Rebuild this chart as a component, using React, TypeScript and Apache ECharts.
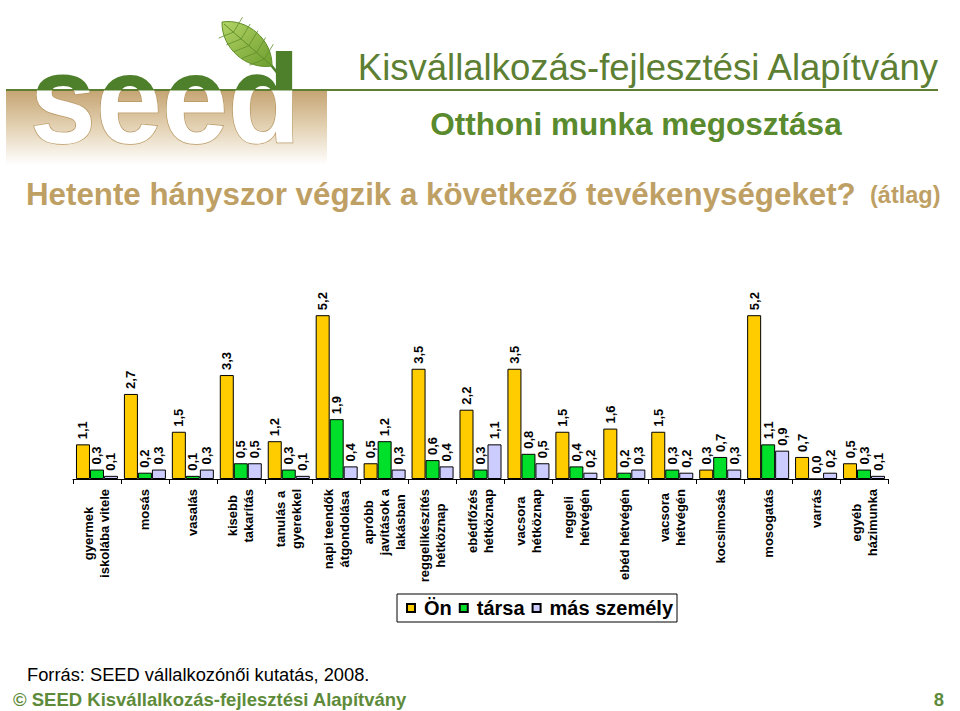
import React, { useEffect, useRef } from 'react';
import * as echarts from 'echarts';

const categories = [
  'gyermek\niskolába vitele',
  'mosás',
  'vasalás',
  'kisebb\ntakarítás',
  'tanulás a\ngyerekkel',
  'napi teendők\nátgondolása',
  'apróbb\njavítások a\nlakásban',
  'reggelikészítés\nhétköznap',
  'ebédfőzés\nhétköznap',
  'vacsora\nhétköznap',
  'reggeli\nhétvégén',
  'ebéd hétvégén',
  'vacsora\nhétvégén',
  'kocsimosás',
  'mosogatás',
  'varrás',
  'egyéb\nházimunka',
];

const onValues = [1.1, 2.7, 1.5, 3.3, 1.2, 5.2, 0.5, 3.5, 2.2, 3.5, 1.5, 1.6, 1.5, 0.3, 5.2, 0.7, 0.5];
const tarsaValues = [0.3, 0.2, 0.1, 0.5, 0.3, 1.9, 1.2, 0.6, 0.3, 0.8, 0.4, 0.2, 0.3, 0.7, 1.1, 0.0, 0.3];
const masValues = [0.1, 0.3, 0.3, 0.5, 0.1, 0.4, 0.3, 0.4, 1.1, 0.5, 0.2, 0.3, 0.2, 0.3, 0.9, 0.2, 0.1];

const seriesNames = ['Ön', 'társa', 'más személy'];
const seriesColors = ['#FFCC00', '#00E02A', '#CCCCFF'];

const logoText = 'seed';
const titleMain = 'Kisvállalkozás-fejlesztési Alapítvány';
const titleSub = 'Otthoni munka megosztása';
const question = 'Hetente hányszor végzik a következő tevékenységeket?';
const questionNote = '(átlag)';
const sourceText = 'Forrás: SEED vállalkozónői kutatás, 2008.';
const footerText = '© SEED Kisvállalkozás-fejlesztési Alapítvány';
const pageNumber = '8';

const FONT = '"Liberation Sans", Arial, Helvetica, sans-serif';
const GREEN = '#5C7F33';
const LOGO_GREEN = '#4E7F2A';
const TAN = '#BFA064';

echarts.graphic.registerShape(
  'leaf',
  echarts.graphic.extendPath('M272,66 C272.7,40 247.7,18 222,22 C221.3,48 246.3,70 272,66 Z', {})
);

function fmt(v: number) {
  return v.toFixed(1).replace('.', ',');
}

export default function App() {
  const ref = useRef<HTMLDivElement>(null);

  useEffect(() => {
    if (!ref.current) return;
    const chart = echarts.init(ref.current, undefined, { renderer: 'svg' });

    const seriesData = [onValues, tarsaValues, masValues];
    const LINE_Y = 90.5;

    const veins: any[] = [];
    const base = [272, 66];
    const tip = [222, 22];
    for (let i = 1; i <= 5; i++) {
      const t = i / 6.5;
      const px = base[0] + (tip[0] - base[0]) * t;
      const py = base[1] + (tip[1] - base[1]) * t;
      veins.push({
        type: 'line',
        shape: { x1: px, y1: py, x2: px + 9, y2: py - 15 },
        style: { stroke: '#5F8E2A', lineWidth: 0.8 },
        z: 12,
      });
      veins.push({
        type: 'line',
        shape: { x1: px, y1: py, x2: px - 15, y2: py + 6 },
        style: { stroke: '#5F8E2A', lineWidth: 0.8 },
        z: 12,
      });
    }

    const logoTextEl = (fill: string, stroke: string | null) => ({
      type: 'text',
      x: 30,
      y: 99,
      scaleX: 0.934,
      style: {
        text: logoText,
        font: `bold 127px ${FONT}`,
        verticalAlign: 'middle',
        align: 'left',
        fill,
        stroke: stroke || undefined,
        lineWidth: stroke ? 1.5 : 0,
      },
    });

    const barSeries = seriesNames.map((name, i) => ({
      name,
      type: 'bar',
      data: seriesData[i],
      barWidth: 14,
      barGap: '0%',
      itemStyle: { color: seriesColors[i], borderColor: '#000', borderWidth: 1 },
      label: {
        show: true,
        position: 'top',
        rotate: 90,
        align: 'left',
        verticalAlign: 'middle',
        distance: 5,
        color: '#000',
        fontFamily: FONT,
        fontWeight: 'bold',
        fontSize: 13,
        formatter: (p: any) => fmt(p.value),
      },
    }));

    chart.setOption({
      animation: false,
      backgroundColor: '#ffffff',
      textStyle: { fontFamily: FONT },
      grid: { left: 73, right: 72, top: 290, bottom: 232, containLabel: false },
      legend: {
        data: seriesNames,
        left: 397,
        top: 594,
        itemWidth: 8,
        itemHeight: 8,
        itemGap: 7,
        padding: [4, 4, 4, 9],
        borderColor: '#000',
        borderWidth: 1,
        backgroundColor: '#fff',
        icon: 'rect',
        textStyle: {
          fontFamily: FONT,
          fontWeight: 'bold',
          fontSize: 20,
          color: '#000',
          padding: [0, 0, 0, 4],
        },
      },
      xAxis: {
        type: 'category',
        data: categories,
        axisLine: { show: true, lineStyle: { color: '#000', width: 1 } },
        axisTick: { show: true, length: 5, lineStyle: { color: '#000' } },
        axisLabel: {
          interval: 0,
          rotate: 90,
          margin: 10,
          color: '#000',
          fontFamily: FONT,
          fontWeight: 'bold',
          fontSize: 13,
          lineHeight: 16,
          formatter: (value: string) =>
            value
              .split('\n')
              .map((l) => `{c|${l}}`)
              .join('\n'),
          rich: {
            c: {
              align: 'center',
              color: '#000',
              fontFamily: FONT,
              fontWeight: 'bold',
              fontSize: 13,
              lineHeight: 16,
            },
          },
        },
      },
      yAxis: {
        type: 'value',
        min: 0,
        max: 6,
        show: false,
        splitLine: { show: false },
      },
      series: [
        ...barSeries,
        {
          name: 'logo',
          type: 'custom',
          coordinateSystem: 'none',
          silent: true,
          clip: false,
          z: 5,
          data: [0],
          renderItem: () => ({
            type: 'group',
            children: [
              {
                type: 'group',
                clipPath: { type: 'rect', shape: { x: 0, y: 0, width: 400, height: LINE_Y } },
                children: [logoTextEl(LOGO_GREEN, null)],
              },
              {
                type: 'group',
                clipPath: { type: 'rect', shape: { x: 0, y: LINE_Y, width: 400, height: 120 } },
                children: [logoTextEl('#FFFFFF', '#B89863')],
              },
            ],
          }),
        },
      ],
      graphic: [
        {
          type: 'rect',
          shape: { x: 6, y: 91, width: 321, height: 74 },
          style: {
            fill: {
              type: 'linear',
              x: 0,
              y: 0,
              x2: 0,
              y2: 1,
              colorStops: [
                { offset: 0, color: '#C6A574' },
                { offset: 0.5, color: '#E4D3B5' },
                { offset: 1, color: '#FFFFFF' },
              ],
            },
          },
          z: 1,
        },
        {
          type: 'line',
          shape: { x1: 6, y1: 90, x2: 938, y2: 90 },
          style: { stroke: GREEN, lineWidth: 2 },
          z: 1,
        },
        {
          type: 'line',
          shape: { x1: 271, y1: 65, x2: 286, y2: 84 },
          style: { stroke: LOGO_GREEN, lineWidth: 2.5 },
          z: 11,
        },
        {
          type: 'leaf',
          style: {
            fill: {
              type: 'linear',
              x: 0,
              y: 0,
              x2: 1,
              y2: 1,
              colorStops: [
                { offset: 0, color: '#B3D466' },
                { offset: 1, color: '#6E9E2E' },
              ],
            },
            stroke: '#5F8E2A',
            lineWidth: 1,
          },
          z: 11,
        },
        {
          type: 'line',
          shape: { x1: 271, y1: 65, x2: 224, y2: 24 },
          style: { stroke: '#5F8E2A', lineWidth: 1 },
          z: 12,
        },
        ...veins,
        {
          type: 'text',
          x: 938,
          y: 67,
          style: {
            text: titleMain,
            font: `36.5px ${FONT}`,
            fill: GREEN,
            align: 'right',
            verticalAlign: 'middle',
          },
          z: 10,
        },
        {
          type: 'text',
          x: 636,
          y: 124,
          style: {
            text: titleSub,
            font: `bold 31.5px ${FONT}`,
            fill: '#5A8A2E',
            align: 'center',
            verticalAlign: 'middle',
          },
          z: 10,
        },
        {
          type: 'text',
          x: 26,
          y: 194,
          style: {
            text: question,
            font: `bold 31.3px ${FONT}`,
            fill: TAN,
            align: 'left',
            verticalAlign: 'middle',
          },
          z: 10,
        },
        {
          type: 'text',
          x: 870,
          y: 195,
          style: {
            text: questionNote,
            font: `bold 23.5px ${FONT}`,
            fill: TAN,
            align: 'left',
            verticalAlign: 'middle',
          },
          z: 10,
        },
        {
          type: 'text',
          x: 27,
          y: 674,
          style: {
            text: sourceText,
            font: `18.3px ${FONT}`,
            fill: '#000',
            align: 'left',
            verticalAlign: 'middle',
          },
          z: 10,
        },
        {
          type: 'text',
          x: 13,
          y: 699,
          style: {
            text: footerText,
            font: `bold 18.5px ${FONT}`,
            fill: '#5E8B3A',
            align: 'left',
            verticalAlign: 'middle',
          },
          z: 10,
        },
        {
          type: 'text',
          x: 944,
          y: 699,
          style: {
            text: pageNumber,
            font: `bold 18.5px ${FONT}`,
            fill: '#5E8B3A',
            align: 'right',
            verticalAlign: 'middle',
          },
          z: 10,
        },
      ],
    });

    return () => {
      chart.dispose();
    };
  }, []);

  return (
    <div
      ref={ref}
      style={{ position: 'absolute', left: 0, top: 0, width: 960, height: 711, background: '#fff' }}
    />
  );
}
